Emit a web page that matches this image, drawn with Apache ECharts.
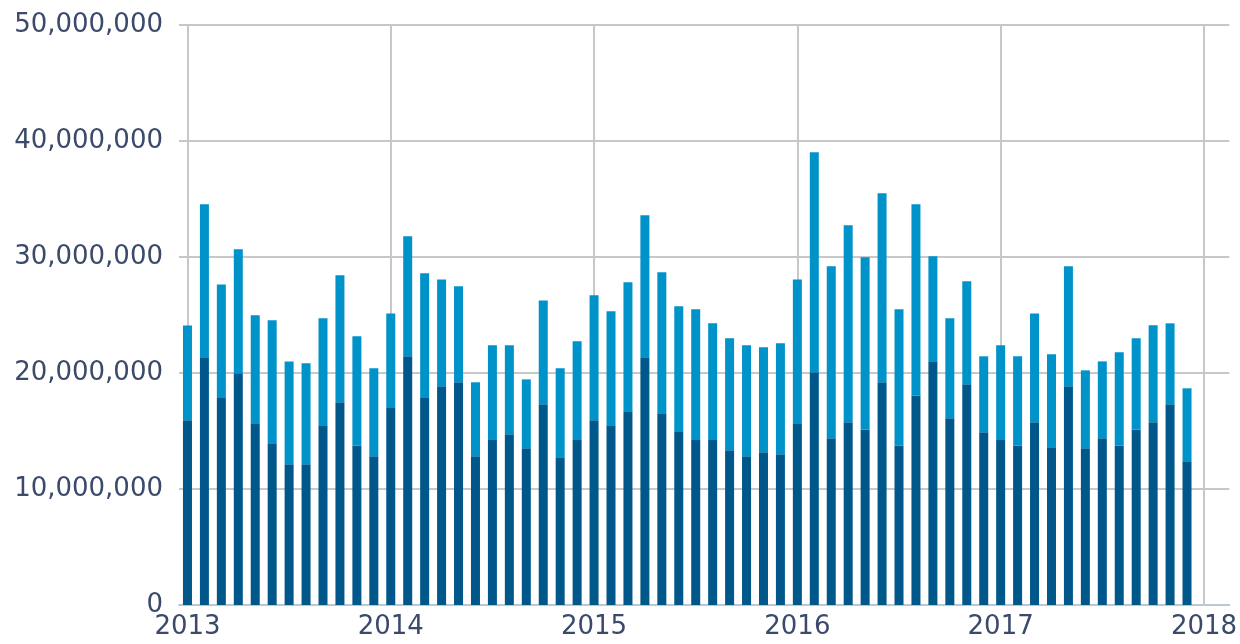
<!DOCTYPE html>
<html>
<head>
<meta charset="utf-8">
<script src="https://cdn.jsdelivr.net/npm/echarts@6/dist/echarts.min.js"></script>
<style>
html,body{margin:0;padding:0;background:#fff;}
#chart{width:1240px;height:644px;}
</style>
</head>
<body>
<div id="chart"></div>
<script>
// Month slots on the date axis (Jan 2013 - Feb 2018)
const months = [
 '2013-01','2013-02','2013-03','2013-04','2013-05','2013-06','2013-07','2013-08','2013-09','2013-10','2013-11','2013-12',
 '2014-01','2014-02','2014-03','2014-04','2014-05','2014-06','2014-07','2014-08','2014-09','2014-10','2014-11','2014-12',
 '2015-01','2015-02','2015-03','2015-04','2015-05','2015-06','2015-07','2015-08','2015-09','2015-10','2015-11','2015-12',
 '2016-01','2016-02','2016-03','2016-04','2016-05','2016-06','2016-07','2016-08','2016-09','2016-10','2016-11','2016-12',
 '2017-01','2017-02','2017-03','2017-04','2017-05','2017-06','2017-07','2017-08','2017-09','2017-10','2017-11','2017-12',
 '2018-01','2018-02'
];
// Lower (dark) segment, millions
const darkValues = [
 15.92,21.35,17.84,19.97,15.66,13.94,12.13,12.13,15.49,17.47,13.76,12.82,
 17.04,21.44,17.90,18.85,19.20,12.82,14.28,14.71,13.51,17.30,12.73,14.28,
 15.92,15.49,16.70,21.35,16.52,14.97,14.28,14.28,13.33,12.82,13.16,12.99,
 15.66,20.06,14.37,15.75,15.14,19.20,13.76,18.07,21.01,16.09,19.02,14.89,
 14.28,13.76,15.75,13.59,18.85,13.51,14.37,13.76,15.14,15.75,17.30,12.39
];
// Upper (light) segment, millions
const lightValues = [
 8.18,13.19,9.80,10.69,9.31,10.60,8.87,8.70,9.22,10.95,9.40,7.58,
 8.10,10.34,10.69,9.22,8.27,6.38,8.11,7.68,5.94,8.96,7.67,8.45,
 10.78,9.83,11.12,12.24,12.16,10.78,11.21,10.00,9.66,9.57,9.05,9.57,
 12.41,18.96,14.83,16.98,14.83,16.29,11.73,16.47,9.05,8.62,8.88,6.55,
 8.11,7.68,9.39,8.02,10.35,6.72,6.63,8.02,7.85,8.36,6.98,6.29
];
const yearTicks = ['2013','2014','2015','2016','2017','2018'];

const toData = (arr) => arr.map((v) => Math.round(v * 1e6));
const isYearStart = (i) => i % 12 === 0;

const textColor = '#3b4a6b';
const gridColor = '#c8c8c8';
const fontFamily = 'DejaVu Sans';

const chart = echarts.init(document.getElementById('chart'), null, {renderer: 'canvas'});
chart.setOption({
  animation: false,
  backgroundColor: '#ffffff',
  grid: {left: 179, right: 5, top: 25, bottom: 39, containLabel: false},
  xAxis: {
    type: 'category',
    data: months,
    boundaryGap: true,
    axisLine: {show: true, lineStyle: {color: '#b9c8d8', width: 2}},
    axisTick: {show: false},
    splitLine: {show: false},
    axisLabel: {
      color: textColor, fontFamily: fontFamily, fontSize: 26, margin: 9,
      interval: (i) => isYearStart(i),
      formatter: (v) => yearTicks[(+v.slice(0, 4)) - 2013]
    }
  },
  yAxis: {
    type: 'value',
    min: 0, max: 50000000, interval: 10000000,
    axisLine: {show: false},
    axisTick: {show: false},
    splitLine: {show: true, lineStyle: {color: gridColor, width: 2}},
    axisLabel: {
      color: textColor, fontFamily: fontFamily, fontSize: 26, margin: 16,
      formatter: (v) => v.toLocaleString('en-US')
    }
  },
  series: [
    {
      type: 'bar', stack: 'total', barWidth: 9, z: 3,
      itemStyle: {color: '#00578a'},
      data: toData(darkValues),
      markLine: {
        silent: true, symbol: 'none', z: 1,
        label: {show: false},
        lineStyle: {color: gridColor, width: 2, type: 'solid'},
        data: yearTicks.map((y) => ({xAxis: y + '-01'}))
      }
    },
    {
      type: 'bar', stack: 'total', barWidth: 9, z: 3,
      itemStyle: {color: '#0093c9'},
      data: toData(lightValues)
    }
  ]
});
</script>
</body>
</html>
